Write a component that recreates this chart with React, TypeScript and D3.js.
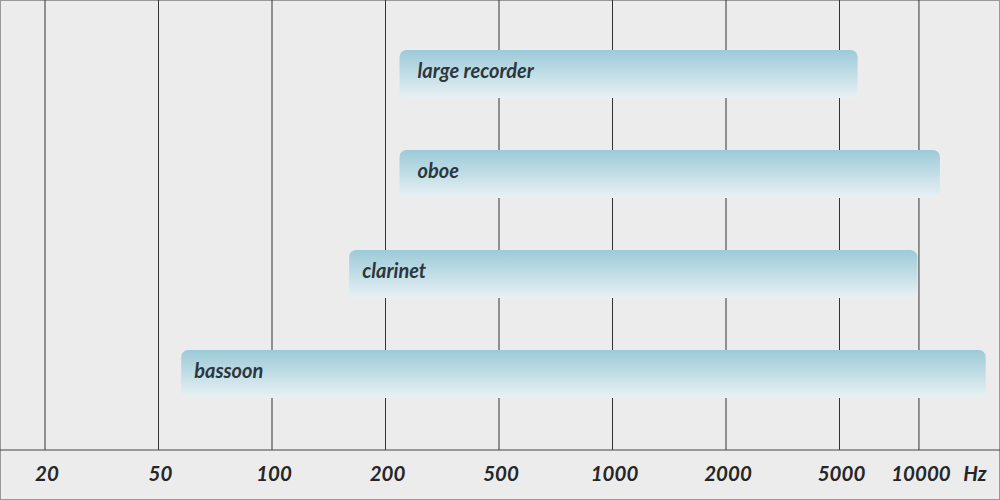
import React from "react";
import * as d3 from "d3";

const instruments = ["large recorder", "oboe", "clarinet", "bassoon"];
const lowHz = [237, 237, 168, 60];
const highHz = [6140, 11320, 9900, 14200];
const tickValues = [20, 50, 100, 200, 500, 1000, 2000, 5000, 10000];
const tickLabels = ["20", "50", "100", "200", "500", "1000", "2000", "5000", "10000"];
const unitLabel = "Hz";

const W = 1000;
const H = 500;
const axisY = 450;
const step = 113.5;
const x0 = 45;
// tick slots along the axis (last slot is compressed in the reference)
const slots = [0, 1, 2, 3, 4, 5, 6, 7, 7.7];

export default function App() {
  const x = d3
    .scaleLinear()
    .domain(tickValues)
    .range(slots.map((s) => x0 + s * step));

  const y = d3.scaleBand().domain(instruments).range([24, 424]).paddingInner(0.52).paddingOuter(0.26);

  const labelPad = [18, 18, 13, 13];

  return (
    <svg
      width={W}
      height={H}
      style={{ position: "absolute", left: 0, top: 0, display: "block" }}
      fontFamily="Lato, 'Open Sans', sans-serif"
    >
      <defs>
        <linearGradient id="barGrad" x1="0" y1="0" x2="0" y2="1">
          <stop offset="0%" stopColor="#9ccad8" />
          <stop offset="100%" stopColor="#e8f1f4" />
        </linearGradient>
      </defs>
      <rect x={0.5} y={0.5} width={W - 1} height={H - 1} fill="#ececec" stroke="#999" strokeWidth={1} />
      {tickValues.map((v) => (
        <line key={v} x1={x(v)} x2={x(v)} y1={0} y2={axisY} stroke="#333" strokeWidth={1} />
      ))}
      <line x1={0} x2={W} y1={axisY} y2={axisY} stroke="#444" strokeWidth={1.2} />
      {instruments.map((name, i) => {
        const bx = x(lowHz[i]);
        const bw = x(highHz[i]) - bx;
        const by = y(name) as number;
        return (
          <g key={name}>
            <rect x={bx} y={by} width={bw} height={y.bandwidth()} rx={7} ry={7} fill="url(#barGrad)" />
            <text
              x={bx + labelPad[i]}
              y={by + 28}
              fontSize={20}
              fontWeight="bold"
              fontStyle="italic"
              fill="#2c373d"
            >
              {name}
            </text>
          </g>
        );
      })}
      {tickValues.map((v, i) => (
        <text
          key={"t" + v}
          x={x(v) + 2}
          y={481}
          textAnchor="middle"
          fontSize={20.5}
          fontWeight="bold"
          fontStyle="italic"
          fill="#262626"
        >
          {tickLabels[i]}
        </text>
      ))}
      <text x={975} y={481} textAnchor="middle" fontSize={20.5} fontWeight="bold" fontStyle="italic" fill="#262626">
        {unitLabel}
      </text>
    </svg>
  );
}
